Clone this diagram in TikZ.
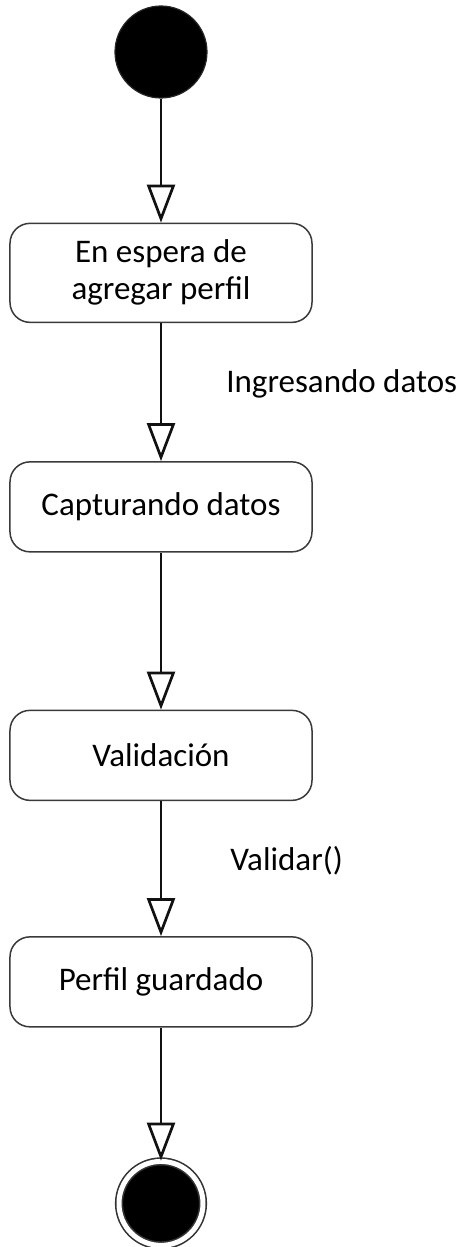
\documentclass[tikz,border=0pt]{standalone}
\usepackage{fontspec}
\setmainfont{Carlito}
\usetikzlibrary{arrows.meta, positioning}
\definecolor{darkline}{HTML}{111111}
\definecolor{boxborder}{HTML}{3A3A3A}
\tikzset{
  initstate/.style={circle, fill=black, draw=black!85, line width=0.6pt,
                    minimum size=46pt, inner sep=0pt},
  finalstate/.style={circle, fill=black, draw=black!80, double=white,
                     double distance=2.5pt, line width=0.8pt,
                     minimum size=42pt, inner sep=0pt},
  statebox/.style={rectangle, rounded corners=10pt, align=center, draw=boxborder,
                   fill=white, line width=0.75pt, minimum width=151pt,
                   minimum height=45pt, font=\fontsize{16.5}{18.5}\selectfont},
  trlabel/.style={font=\fontsize{16.5}{18.5}\selectfont, inner sep=0pt, anchor=west},
  flow/.style={-{Triangle[open, length=19pt, width=14pt]}, line width=1.35pt,
               draw=darkline},
}
\def\gapA{62pt}
\def\gapB{69pt}
\def\gapC{78.5pt}
\def\gapD{67.5pt}
\def\gapE{66.5pt}

\begin{document}
\begin{tikzpicture}
\useasboundingbox (-80.5pt,26pt) rectangle (150pt,-597.5pt);

% States
\node[initstate] (start) {};
\node[statebox, below=\gapA of start, minimum height=49.5pt] (espera) {En espera de\\agregar perfil};
\node[statebox, below=\gapB of espera] (captura) {Capturando datos};
\node[statebox, below=\gapC of captura] (valida) {Validación};
\node[statebox, below=\gapD of valida] (guardado) {Perfil guardado};
\node[finalstate, below=\gapE of guardado] (fin) {};

% Transitions
\draw[flow] (start) -- (espera);
\draw[flow] (espera) -- node[trlabel, pos=0.44, xshift=32pt] (ingreso) {Ingresando datos} (captura);
\draw[flow] (captura) -- (valida);
\draw[flow] (valida) -- node[trlabel, pos=0.44, xshift=34pt] (validar) {Validar()} (guardado);
\draw[flow] (guardado) -- (fin);

\end{tikzpicture}
\end{document}
